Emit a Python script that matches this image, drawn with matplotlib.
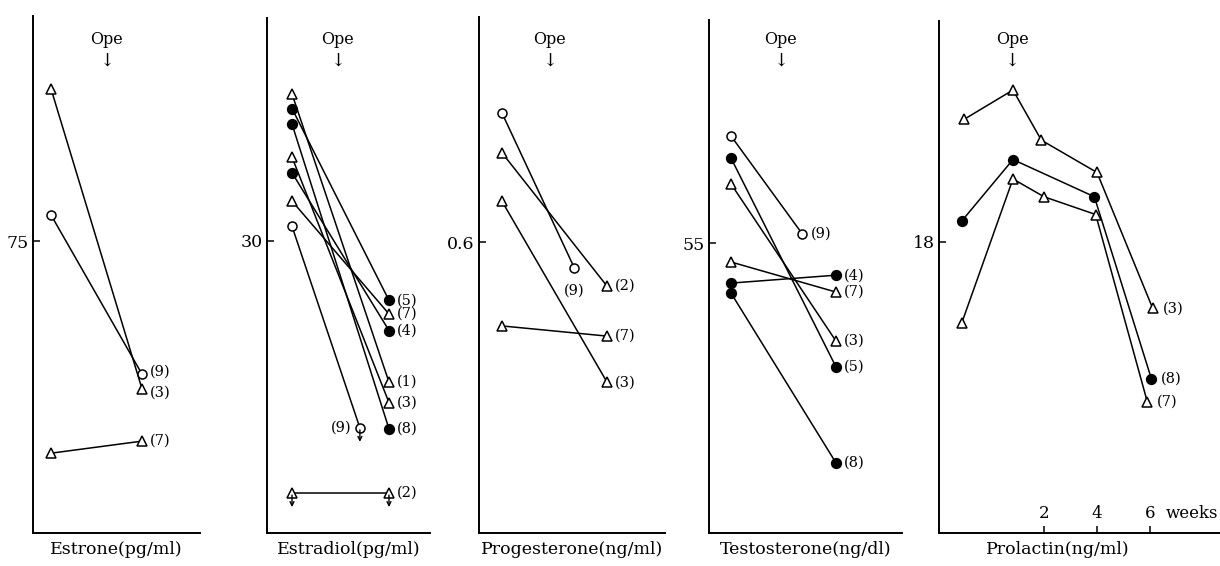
import matplotlib.pyplot as plt
from matplotlib.transforms import blended_transform_factory, offset_copy

plt.rcParams['font.family'] = ['DejaVu Serif', 'DejaVu Sans']

# Estrone (pg/ml): value before and after the operation
estrone_ids = ['(3)', '(9)', '(7)']
estrone_kind = ['tri', 'open', 'tri']
estrone_pre = [114.1, 81.7, 20.5]
estrone_post = [37.0, 40.8, 23.6]
estrone_post_x = [1, 1, 1]

# Estradiol (pg/ml)
estradiol_ids = ['(1)', '(5)', '(8)', '(3)', '(4)', '(7)', '(9)', '(2)']
estradiol_kind = ['tri', 'fill', 'fill', 'tri', 'fill', 'tri', 'open', 'tri']
estradiol_pre = [45.1, 43.6, 42.0, 38.6, 37.0, 34.1, 31.5, 4.1]
estradiol_post = [15.5, 23.9, 10.7, 13.4, 20.8, 22.5, 10.8, 4.1]
estradiol_post_x = [1, 1, 1, 1, 1, 1, 0.7, 1]
estradiol_below_limit = ['(9)', '(2)']

# Progesterone (ng/ml)
progesterone_ids = ['(9)', '(2)', '(3)', '(7)']
progesterone_kind = ['open', 'tri', 'tri', 'tri']
progesterone_pre = [0.866, 0.784, 0.684, 0.427]
progesterone_post = [0.546, 0.509, 0.311, 0.406]
progesterone_post_x = [0.69, 1, 1, 1]

# Testosterone (ng/dl)
testosterone_ids = ['(9)', '(5)', '(3)', '(7)', '(4)', '(8)']
testosterone_kind = ['open', 'fill', 'tri', 'tri', 'fill', 'fill']
testosterone_pre = [75.3, 71.1, 66.2, 51.4, 47.4, 45.5]
testosterone_post = [56.7, 31.5, 36.4, 45.7, 48.9, 13.3]
testosterone_post_x = [0.68, 1, 1, 1, 1, 1]

# Prolactin (ng/ml) over weeks
prolactin_ids = ['(3)', '(8)', '(7)']
prolactin_kind = ['tri', 'fill', 'tri']
prolactin_weeks = [[-1.0, 0.83, 1.9, 4.0, 6.1],
                   [-1.1, 0.83, 3.9, 6.05],
                   [-1.1, 0.83, 2.0, 3.95, 5.9]]
prolactin_values = [[25.6, 27.4, 24.3, 22.3, 13.9],
                    [19.3, 23.1, 20.8, 9.55],
                    [13.0, 21.9, 20.8, 19.7, 8.1]]
week_ticks = [2, 4, 6]

MARKERS = {
    'tri': dict(marker='^', markerfacecolor='white', markersize=7),
    'open': dict(marker='o', markerfacecolor='white', markersize=6.5),
    'fill': dict(marker='o', markerfacecolor='black', markersize=7),
}

W, H = 1220, 566


def make_axes(fig, left, right, top, bottom=533):
    return fig.add_axes([left / W, 1 - bottom / H, (right - left) / W, (bottom - top) / H])


def style_axes(ax, tick_value, tick_label, xlim, ylim, label, label_x=0.5):
    ax.set_xlim(xlim)
    ax.set_ylim(ylim)
    for side in ['top', 'right']:
        ax.spines[side].set_visible(False)
    for side in ['left', 'bottom']:
        ax.spines[side].set_linewidth(1.4)
    ax.set_yticks([tick_value])
    ax.set_yticklabels([tick_label])
    ax.tick_params(axis='y', direction='in', length=5, width=1.1, pad=3, labelsize=12.5)
    ax.set_xticks([])
    ax.set_xlabel(label, fontsize=12.5)
    ax.xaxis.set_label_coords(label_x, -0.016)
    ax.xaxis.label.set_va('top')


def add_ope(fig, ax, x):
    tr = blended_transform_factory(ax.transData, fig.transFigure)
    ax.text(x, 1 - 40 / H, 'Ope', transform=tr, ha='center', va='center', fontsize=11.5)
    ax.text(x, 1 - 61 / H, '↓', transform=tr, ha='center', va='center', fontsize=13)


def down_arrow(fig, ax, x, y):
    # small arrow just under a value that is below the detection limit
    head = offset_copy(ax.transData, fig=fig, x=0, y=-14, units='dots')
    tail = offset_copy(ax.transData, fig=fig, x=0, y=-2, units='dots')
    ax.annotate('', xy=(x, y), xycoords=head, xytext=(x, y), textcoords=tail,
                arrowprops=dict(arrowstyle='->', color='black', lw=1.0,
                                mutation_scale=7, shrinkA=0, shrinkB=0))


def draw_pairs(fig, ax, ids, kinds, pre, post, post_x, special=None, below=()):
    special = special or {}
    for name, kind, y0, y1, x1 in zip(ids, kinds, pre, post, post_x):
        ax.plot([0, x1], [y0, y1], color='black', linewidth=1.1,
                markeredgecolor='black', markeredgewidth=1.1, **MARKERS[kind])
        off, ha, va = special.get(name, ((6, 0), 'left', 'center'))
        ax.annotate(name, (x1, y1), xytext=off, textcoords='offset points',
                    ha=ha, va=va, fontsize=10.5)
        if name in below:
            for x, y in ([(0, y0), (x1, y1)] if x1 == 1 and y0 == y1 else [(x1, y1)]):
                down_arrow(fig, ax, x, y)


fig = plt.figure(figsize=(W / 100, H / 100), dpi=100)

ax1 = make_axes(fig, 33, 200, 16)
draw_pairs(fig, ax1, estrone_ids, estrone_kind, estrone_pre, estrone_post, estrone_post_x,
           special={'(9)': ((6, 2), 'left', 'center'), '(3)': ((6, -3), 'left', 'center')})
style_axes(ax1, 75, '75', (-0.198, 1.637), (0, 132.8), 'Estrone(pg/ml)')
add_ope(fig, ax1, 0.615)

ax2 = make_axes(fig, 267, 430, 18)
draw_pairs(fig, ax2, estradiol_ids, estradiol_kind, estradiol_pre, estradiol_post, estradiol_post_x,
           special={'(9)': ((-6, 0), 'right', 'center')}, below=estradiol_below_limit)
style_axes(ax2, 30, '30', (-0.258, 1.423), (0, 52.9), 'Estradiol(pg/ml)')
add_ope(fig, ax2, 0.474)

ax3 = make_axes(fig, 479, 665, 17)
draw_pairs(fig, ax3, progesterone_ids, progesterone_kind, progesterone_pre, progesterone_post,
           progesterone_post_x, special={'(9)': ((0, -16), 'center', 'center')})
style_axes(ax3, 0.6, '0.6', (-0.219, 1.552), (0, 1.064), 'Progesterone(ng/ml)')
add_ope(fig, ax3, 0.457)

ax4 = make_axes(fig, 709, 902, 20)
draw_pairs(fig, ax4, testosterone_ids, testosterone_kind, testosterone_pre, testosterone_post,
           testosterone_post_x)
style_axes(ax4, 55, '55', (-0.21, 1.629), (0, 97.3), 'Testosterone(ng/dl)')
add_ope(fig, ax4, 0.476)

ax5 = make_axes(fig, 939, 1220, 21)
for name, kind, xs, ys in zip(prolactin_ids, prolactin_kind, prolactin_weeks, prolactin_values):
    ax5.plot(xs, ys, color='black', linewidth=1.1, markeredgecolor='black',
             markeredgewidth=1.1, **MARKERS[kind])
    ax5.annotate(name, (xs[-1], ys[-1]), xytext=(7, 0), textcoords='offset points',
                 ha='left', va='center', fontsize=10.5)
style_axes(ax5, 18, '18', (-1.96, 8.64), (0, 31.67), 'Prolactin(ng/ml)', label_x=0.4235)
ax5.set_xticks(week_ticks)
ax5.set_xticklabels([])
ax5.tick_params(axis='x', direction='in', length=5, width=1.1)
xtr = ax5.get_xaxis_transform()
for w in week_ticks:
    ax5.text(w, 0.022, str(w), transform=xtr, ha='center', va='bottom', fontsize=12)
ax5.text(6.6, 0.022, 'weeks', transform=xtr, ha='left', va='bottom', fontsize=12)
add_ope(fig, ax5, 0.8)

fig.savefig('out.png', dpi=100)
